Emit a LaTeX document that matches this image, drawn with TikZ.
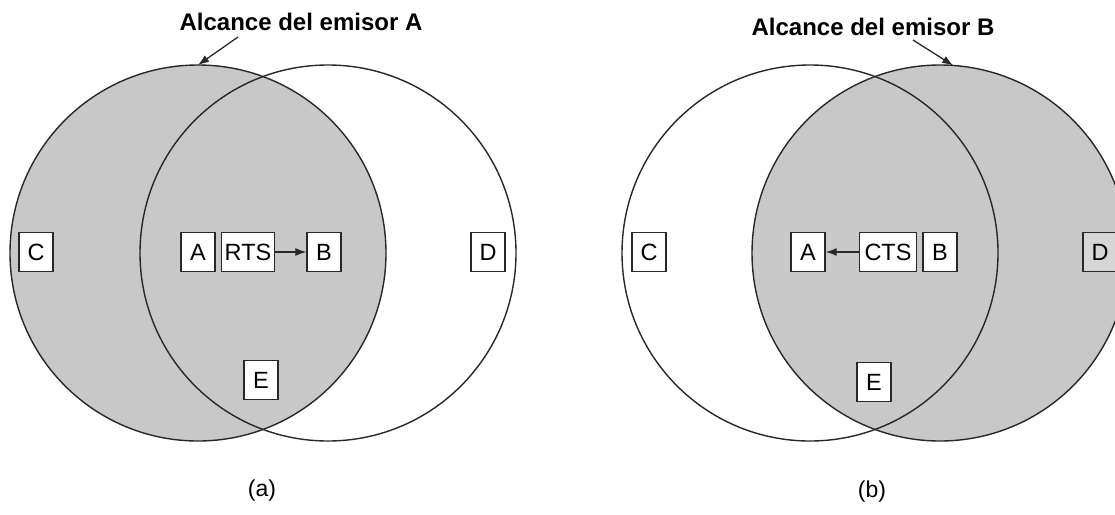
\documentclass[tikz,border=0pt]{standalone}
\usepackage{fontspec}
\setmainfont{Liberation Sans}
\usetikzlibrary{arrows.meta}
\definecolor{shadegray}{RGB}{200,200,200}
\definecolor{dshade}{RGB}{214,214,214}
\definecolor{ink}{RGB}{40,40,40}
\begin{document}
\begin{tikzpicture}[x=1pt,y=-1pt,
  box/.style={draw=ink, line width=1.4pt, fill=white, minimum width=34pt, minimum height=39pt, inner sep=2pt, font=\fontsize{23.5}{26}\selectfont},
  reachcircle/.style={circle, draw=ink, line width=1.4pt, minimum size=376pt, inner sep=0pt, outer sep=0pt},
  headlabel/.style={font=\bfseries\fontsize{24}{28}\selectfont, inner sep=0pt},
  sublabel/.style={font=\fontsize{23}{26}\selectfont, inner sep=0pt},
  sig/.style={-{Latex[length=11pt,width=8pt]}, line width=1.3pt, draw=ink}]
\path[use as bounding box, clip] (0,0) rectangle (1115,514);
\fill[white] (0,0) rectangle (1115,514);
% (a)
\node[reachcircle, fill=shadegray] (cA1) at (198,253) {};
\node[reachcircle] (cA2) at (328,253) {};
\node[box] (aC) at (36,252) {C};
\node[box] (aA) at (198,252) {A};
\node[box, minimum width=53pt] (aRTS) at (248,252) {RTS};
\node[box] (aB) at (324,252) {B};
\node[box] (aD) at (488,252) {D};
\node[box] (aE) at (261,380) {E};
\draw[sig] (aRTS) -- (aB);
\node[headlabel] (labA) at (301,22) {Alcance del emisor A};
\coordinate (tA) at (238,37);
\draw[sig] (tA) -- (cA1.north);
\node[sublabel] (capA) at (262,491) {(a)};
% (b)
\node[reachcircle, fill=shadegray] (cB2) at (940,253) {};
\node[reachcircle] (cB1) at (810,253) {};
\node[box] (bC) at (649,252) {C};
\node[box] (bA) at (808,252) {A};
\node[box, minimum width=57pt] (bCTS) at (888,252) {CTS};
\node[box] (bB) at (940,252) {B};
\node[box, fill=dshade] (bD) at (1100,252) {D};
\node[box] (bE) at (874,382) {E};
\draw[sig] (bCTS) -- (bA);
\node[headlabel] (labB) at (873,27) {Alcance del emisor B};
\coordinate (tB) at (913,40);
\draw[sig] (tB) -- (cB2.86);
\node[sublabel] (capB) at (872,492) {(b)};
\end{tikzpicture}
\end{document}
